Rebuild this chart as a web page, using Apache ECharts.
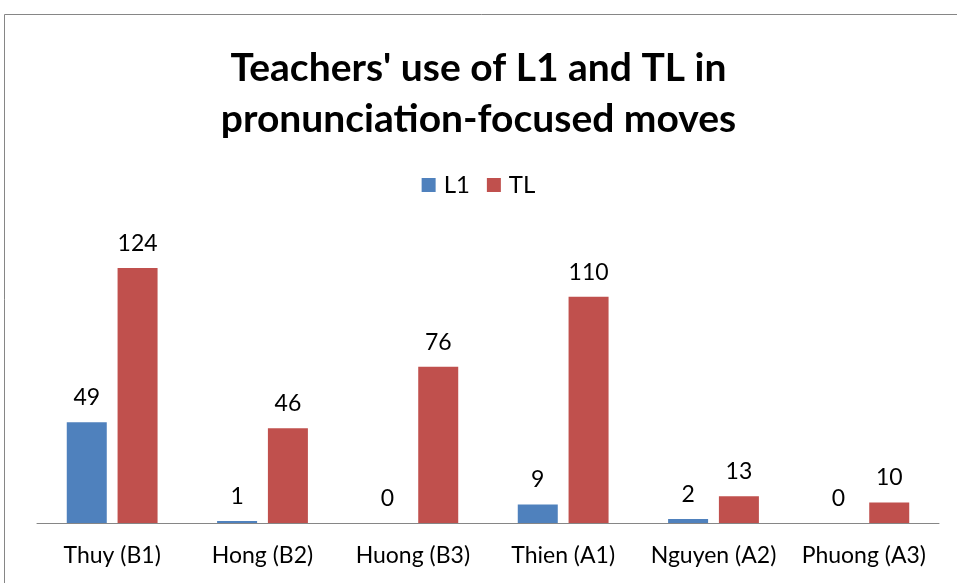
<!DOCTYPE html>
<html>
<head>
<meta charset="utf-8">
<script src="https://cdn.jsdelivr.net/npm/echarts@6/dist/echarts.min.js"></script>
<style>
  html, body { margin: 0; padding: 0; background: #fff; }
  #main { width: 957px; height: 583px; }
</style>
</head>
<body>
<div id="main"></div>
<script>
// data
const teachers = ['Thuy (B1)', 'Hong (B2)', 'Huong (B3)', 'Thien (A1)', 'Nguyen (A2)', 'Phuong (A3)'];
const l1 = [49, 1, 0, 9, 2, 0];
const tl = [124, 46, 76, 110, 13, 10];

const font = 'Lato, "Open Sans", sans-serif';

const myChart = echarts.init(document.getElementById('main'));

const labelStyle = {
    show: true,
    position: 'top',
    distance: 13,
    fontFamily: font,
    fontSize: 23,
    color: '#000'
};

const option = {
    animation: false,
    backgroundColor: '#fff',
    graphic: [{
        type: 'rect',
        shape: { x: 4.5, y: 14.5, width: 1000, height: 1000 },
        style: { fill: 'none', stroke: '#868686', lineWidth: 1 },
        silent: true
    }],
    title: {
        text: "Teachers' use of L1 and TL in\npronunciation-focused moves",
        left: 'center',
        top: 38,
        textStyle: {
            fontFamily: font,
            fontWeight: 'bold',
            fontSize: 39,
            lineHeight: 51,
            color: '#000'
        }
    },
    legend: {
        top: 168,
        left: 'center',
        itemWidth: 14,
        itemHeight: 14,
        itemGap: 17,
        icon: 'rect',
        textStyle: { fontFamily: font, fontSize: 24, color: '#000', padding: [0, 0, 0, 3] },
        data: ['L1', 'TL']
    },
    grid: {
        left: 37,
        right: 18,
        top: 235,
        bottom: 60
    },
    xAxis: {
        type: 'category',
        data: teachers,
        axisLine: { lineStyle: { color: '#868686', width: 1 } },
        axisTick: { show: false },
        axisLabel: {
            fontFamily: font,
            fontSize: 23,
            color: '#000',
            margin: 21,
            interval: 0
        }
    },
    yAxis: {
        type: 'value',
        min: 0,
        max: 140,
        interval: 20,
        show: false,
        splitLine: { show: false }
    },
    series: [{
        name: 'L1',
        type: 'bar',
        data: l1,
        barWidth: 40,
        barGap: '27%',
        itemStyle: { color: '#4F81BD' },
        label: labelStyle
    }, {
        name: 'TL',
        type: 'bar',
        data: tl,
        barWidth: 40,
        itemStyle: { color: '#C0504D' },
        label: labelStyle
    }]
};

myChart.setOption(option);
</script>
</body>
</html>
